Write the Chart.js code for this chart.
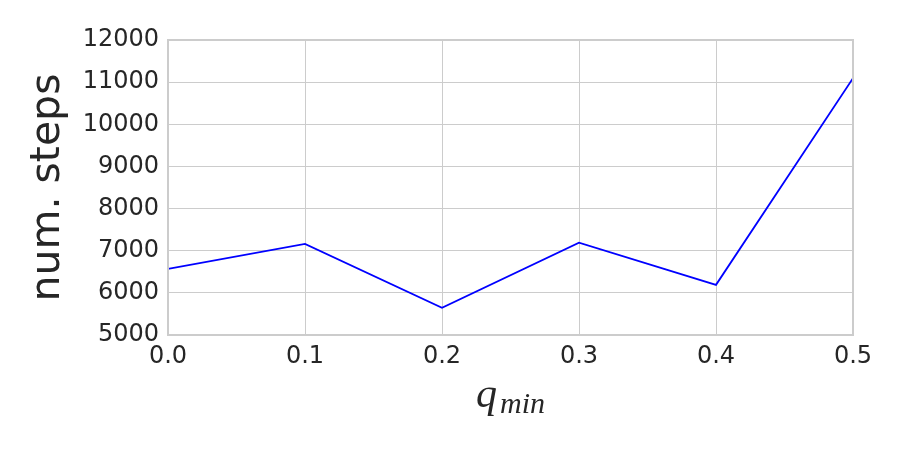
<!DOCTYPE html>
<html>
<head>
<meta charset="utf-8">
<script src="https://cdn.jsdelivr.net/npm/chart.js@4"></script>
<style>
  html, body { margin: 0; padding: 0; background: #fff; }
  #wrap { width: 900px; height: 450px; }
</style>
</head>
<body>
<div id="wrap"><canvas id="chart" width="900" height="450"></canvas></div>
<script>
const qMin = [0.0, 0.1, 0.2, 0.3, 0.4, 0.5];
const numSteps = [6570, 7160, 5645, 7190, 6190, 11095];
const yTicks = [5000, 6000, 7000, 8000, 9000, 10000, 11000, 12000];

const textColor = '#262626';
const gridColor = '#cccccc';

// x-axis label with subscript, drawn below the chart area
const xTitle = {
  id: 'xTitle',
  afterDraw(chart) {
    const ctx = chart.ctx;
    const cx = (chart.chartArea.left + chart.chartArea.right) / 2;
    const y = 407;
    ctx.save();
    ctx.fillStyle = textColor;
    ctx.textBaseline = 'alphabetic';
    ctx.font = 'italic 42px "Liberation Serif"';
    const qw = ctx.measureText('q').width;
    ctx.font = 'italic 30px "Liberation Serif"';
    const mw = ctx.measureText('min').width;
    const x0 = cx - (qw + mw + 3) / 2;
    ctx.font = 'italic 42px "Liberation Serif"';
    ctx.fillText('q', x0, y);
    ctx.font = 'italic 30px "Liberation Serif"';
    ctx.fillText('min', x0 + qw + 3, y + 6);
    ctx.restore();
  }
};

new Chart(document.getElementById('chart'), {
  type: 'line',
  data: {
    datasets: [{
      data: qMin.map((q, i) => ({ x: q, y: numSteps[i] })),
      borderColor: '#0000ff',
      borderWidth: 1.8,
      pointRadius: 0,
      tension: 0,
      fill: false
    }]
  },
  options: {
    responsive: false,
    animation: false,
    layout: { padding: { top: 40, right: 47, left: 0, bottom: 0 } },
    plugins: {
      legend: { display: false },
      tooltip: { enabled: false }
    },
    scales: {
      x: {
        type: 'linear',
        min: 0,
        max: 0.5,
        afterFit: (scale) => { scale.height = 115; },
        afterBuildTicks: (scale) => { scale.ticks = qMin.map(v => ({ value: v })); },
        ticks: {
          color: textColor,
          font: { family: 'DejaVu Sans', size: 24 },
          padding: 7,
          maxRotation: 0,
          callback: (v) => Number(v).toFixed(1)
        },
        grid: { color: gridColor, lineWidth: 1, drawTicks: false },
        border: { color: gridColor, width: 2 }
      },
      y: {
        min: 5000,
        max: 12000,
        afterFit: (scale) => { scale.width = 168; },
        afterBuildTicks: (scale) => { scale.ticks = yTicks.map(v => ({ value: v })); },
        ticks: {
          color: textColor,
          font: { family: 'DejaVu Sans', size: 24 },
          padding: 9,
          callback: (v) => String(v)
        },
        grid: { color: gridColor, lineWidth: 1, drawTicks: false },
        border: { color: gridColor, width: 2 },
        title: {
          display: true,
          text: 'num. steps',
          color: textColor,
          font: { family: 'DejaVu Sans', size: 41 },
          padding: { top: 24, bottom: 0 }
        }
      }
    }
  },
  plugins: [xTitle, {
    id: 'frame',
    afterDatasetsDraw(chart) {
      const { ctx, chartArea: a } = chart;
      ctx.save();
      ctx.strokeStyle = gridColor;
      ctx.lineWidth = 2;
      ctx.strokeRect(a.left, a.top, a.right - a.left, a.bottom - a.top);
      ctx.restore();
    }
  }]
});
</script>
</body>
</html>
